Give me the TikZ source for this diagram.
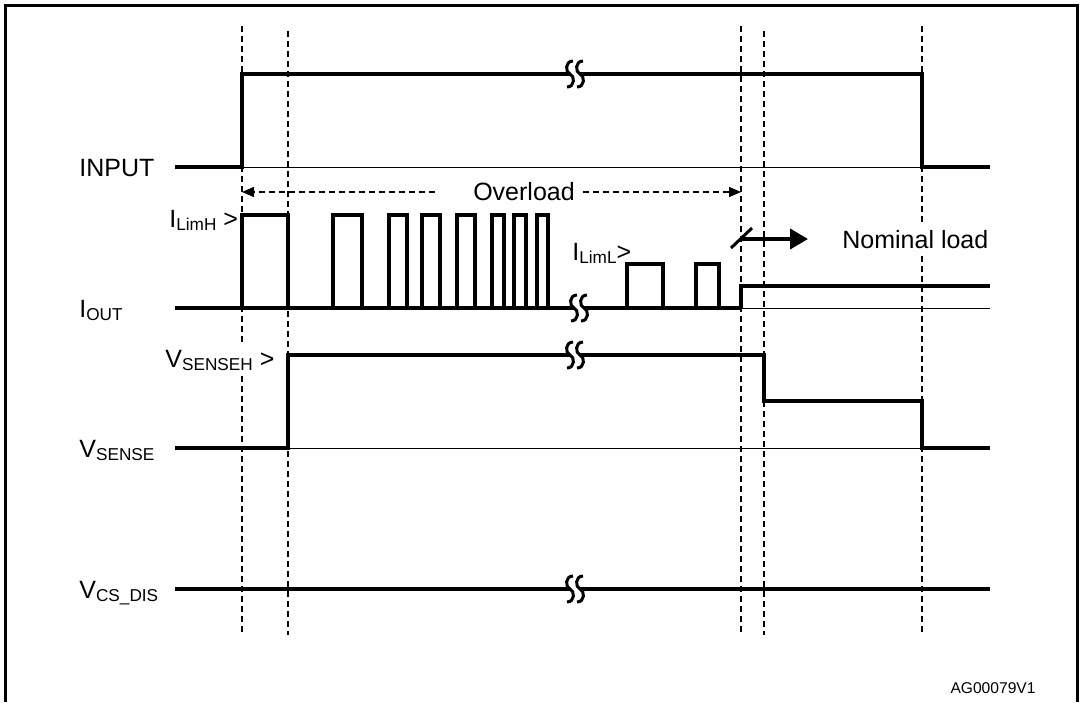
\documentclass[tikz,border=0pt]{standalone}
\usepackage{fontspec}
\setmainfont{Liberation Sans}
\usetikzlibrary{arrows.meta, positioning}
\newcommand{\sigsub}[1]{\raisebox{-1.5pt}{\fontsize{8.6}{10}\selectfont #1}}
\tikzset{
  sig/.style={line width=2pt, line join=miter},
  zeroline/.style={line width=0.5pt},
  guide/.style={dash pattern=on 3pt off 2pt, line width=0.75pt},
  lbl/.style={font=\fontsize{12.5}{15}\selectfont, inner sep=0pt, anchor=base west},
  brk/.pic={
    \fill[white] (-5,-4) rectangle (5,4);
    \foreach \dx in {-5,5}
      \draw[line width=1.5pt] (\dx+3,-13) .. controls (\dx-5,-13) and (\dx-5,-2) .. (\dx,0)
        .. controls (\dx+5,2) and (\dx+5,13) .. (\dx-3,13);
  }
}

\begin{document}
\begin{tikzpicture}[x=0.5pt, y=-0.5pt, >=Triangle]
    \useasboundingbox (0,0) rectangle (1080,702);
    % Frame
    \draw[line width=1.5pt] (5,702) -- (5,5) -- (1077,5) -- (1077,702);

    % Guide lines at the switching instants
    \foreach \x/\t in {242/26, 288/31, 741/26, 764/31, 922/26}
      \draw[guide] (\x,\t) -- (\x,635);

    % Signal names
    \node[lbl] (lin) at (79,176) {INPUT};
    \node[lbl] (lout) at (79,317) {I\sigsub{OUT}};
    \node[lbl] (lsen) at (79,457) {V\sigsub{SENSE}};
    \node[lbl] (lcs) at (79,598) {V\sigsub{CS\_DIS}};

    % Level marks
    \node[lbl] (llimh) at (169,227) {I\sigsub{LimH} >};
    \node[lbl] (llim) at (572,260) {I\sigsub{LimL}>};
    \node[lbl, fill=white, inner sep=3pt] (lsenh) at (159,367) {V\sigsub{SENSEH} >};

    % Overload span
    \node[lbl, anchor=center] (ovl) at (524,192) {Overload};
    \coordinate (ovlL) at (242,192);
    \coordinate (ovlR) at (741,192);
    \draw[guide, shorten <=19pt, -{Triangle[length=6pt, width=5pt]}] (ovl.west) -- (ovlL);
    \draw[guide, shorten <=4pt, -{Triangle[length=6pt, width=5pt]}] (ovl.east) -- (ovlR);

    % Nominal load
    \node[lbl, anchor=west, fill=white, inner xsep=0pt, inner ysep=3.5pt] (nom) at (842,240) {Nominal load};
    \coordinate (nomS) at (741,239);
    \draw[line width=1.5pt] (731,248) -- (752,228);
    \draw[sig, shorten >=17pt, -{Triangle[length=9pt, width=10pt]}] (nomS) -- (nomS -| nom.west);

    % INPUT
    \draw[zeroline] (242,167) -- (990,167);
    \draw[sig] (175,167) -- (242,167) -- (242,74) -- (922,74) -- (922,167) -- (990,167);
    \pic at (575,74) {brk};

    % I_OUT
    \draw[zeroline] (288,308) -- (990,308);
    \draw[sig] (175,308) -- (741,308);
    \foreach \a/\b in {242/288, 333/362, 389/407, 422/440, 457/475, 492/504, 514/526, 537/548}
      \draw[sig] (\a,308) -- (\a,215) -- (\b,215) -- (\b,308);
    \foreach \a/\b in {627/663, 696/719}
      \draw[sig] (\a,308) -- (\a,264) -- (\b,264) -- (\b,308);
    \draw[sig] (741,308) -- (741,286) -- (990,286);
    \pic at (579,308) {brk};

    % V_SENSE
    \draw[zeroline] (288,448) -- (990,448);
    \draw[sig] (175,448) -- (288,448) -- (288,355) -- (764,355) -- (764,401) -- (922,401) -- (922,448) -- (990,448);
    \pic at (575,355) {brk};

    % V_CS_DIS
    \draw[sig] (175,589) -- (990,589);
    \pic at (575,589) {brk};

    \node[font=\fontsize{7.8}{9}\selectfont, inner sep=0pt] (code) at (993,688) {AG00079V1};
\end{tikzpicture}
\end{document}
